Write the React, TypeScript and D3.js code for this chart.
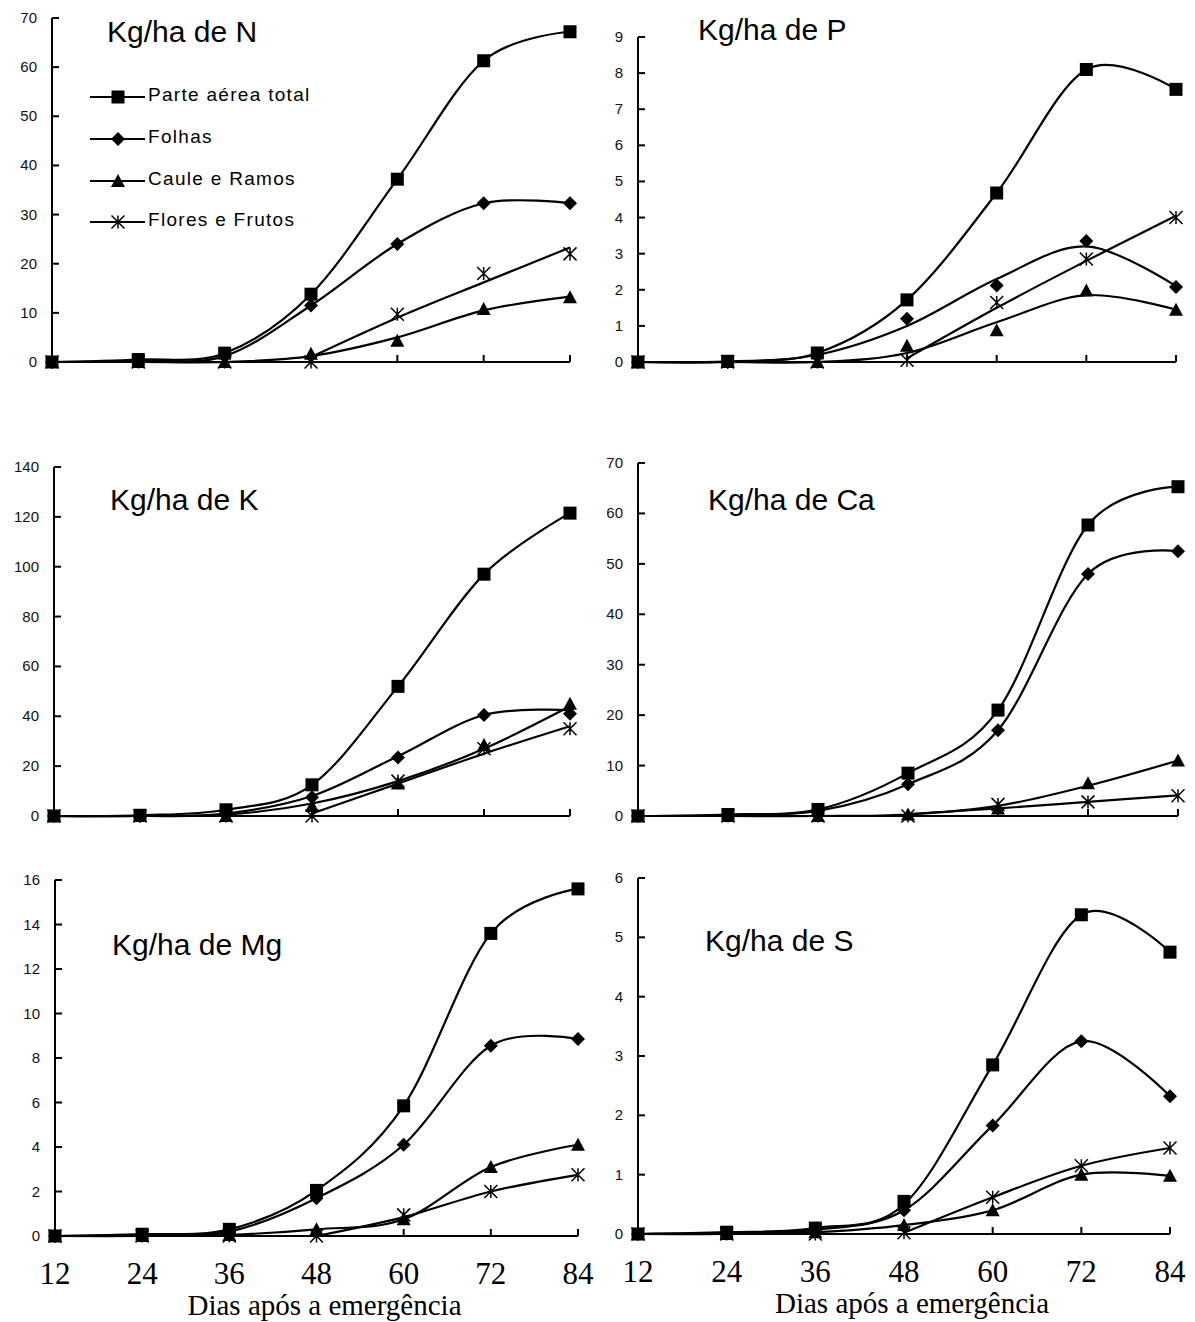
import React, { useEffect, useRef } from "react";
import * as d3 from "d3";

// days after emergence
const days = [12, 24, 36, 48, 60, 72, 84];
const seriesNames = ["Parte aérea total", "Folhas", "Caule e Ramos", "Flores e Frutos"];
const symbols = ["square", "diamond", "triangle", "star"];

// marker values per series: [parte, folhas, caule, flores]
const nPoints = [
  [0, 0.5, 1.8, 13.8, 37.2, 61.3, 67.2],
  [0, 0.3, 1.2, 11.5, 24, 32.3, 32.3],
  [0, 0, 0, 1.7, 4.3, 10.8, 13.2],
  [0, 0, 0, 0, 9.7, 18, 22],
];
const nFit = [
  [0, 0.5, 1.8, 13.8, 37.2, 61.3, 67.2],
  [0, 0.3, 1.2, 11.5, 24, 32.3, 32.3],
  [0, 0, 0, 1.2, 5, 10.5, 13.3],
  [null, null, null, 1.0, 9.0, 16.2, 23.3],
];

const pPoints = [
  [0, 0.02, 0.25, 1.72, 4.68, 8.1, 7.55],
  [0, 0, 0.2, 1.2, 2.12, 3.35, 2.08],
  [0, 0, 0, 0.45, 0.88, 1.98, 1.45],
  [0, 0, 0, 0.05, 1.65, 2.85, 4.0],
];
const pFit = [
  [0, 0.02, 0.25, 1.72, 4.68, 8.1, 7.55],
  [0, 0, 0.2, 1.0, 2.3, 3.2, 2.1],
  [0, 0, 0, 0.25, 1.1, 1.85, 1.45],
  [null, null, null, 0.1, 1.5, 2.8, 4.05],
];

const kPoints = [
  [0, 0.3, 2.5, 12.5, 52, 97, 121.5],
  [0, 0, 1, 7.5, 23.5, 40.5, 41],
  [0, 0, 0, 4, 13, 28.5, 45],
  [0, 0, 0, 0, 14, 27, 35],
];
const kFit = [
  [0, 0.3, 2.5, 12.5, 52, 97, 121.5],
  [0, 0, 1, 8, 24, 40.5, 42.5],
  [0, 0, 0.5, 5, 14, 27, 44],
  [null, null, null, 1, 13, 25, 36],
];

const caPoints = [
  [0, 0.3, 1.3, 8.5, 21, 57.7, 65.3],
  [0, 0.2, 1.0, 6.3, 17, 48, 52.5],
  [0, 0, 0, 0.3, 1.5, 6.5, 11],
  [0, 0, 0, 0, 2.3, 2.8, 4.0],
];
const caFit = [
  [0, 0.3, 1.3, 8.5, 21, 57.7, 65.3],
  [0, 0.2, 1.0, 6.3, 17, 48, 52.5],
  [0, 0, 0, 0.3, 2, 6, 11],
  [null, null, null, 0.4, 1.5, 2.8, 4.1],
];

const mgPoints = [
  [0, 0.08, 0.3, 2.05, 5.85, 13.6, 15.6],
  [0, 0.05, 0.2, 1.7, 4.1, 8.55, 8.85],
  [0, 0, 0.05, 0.3, 0.75, 3.1, 4.1],
  [0, 0, 0, 0, 0.95, 2.0, 2.75],
];
const mgFit = [
  [0, 0.08, 0.3, 2.05, 5.85, 13.6, 15.6],
  [0, 0.05, 0.2, 1.7, 4.1, 8.55, 8.85],
  [0, 0, 0.05, 0.3, 0.75, 3.1, 4.1],
  [null, null, null, 0, 0.85, 2.0, 2.75],
];

const sPoints = [
  [0, 0.03, 0.1, 0.55, 2.85, 5.38, 4.75],
  [0, 0.02, 0.07, 0.4, 1.83, 3.25, 2.32],
  [0, 0, 0.03, 0.15, 0.4, 1.0, 0.98],
  [0, 0, 0, 0.02, 0.62, 1.15, 1.45],
];
const sFit = [
  [0, 0.03, 0.1, 0.5, 2.85, 5.38, 4.75],
  [0, 0.02, 0.07, 0.4, 1.83, 3.25, 2.32],
  [0, 0, 0.03, 0.15, 0.4, 1.0, 0.98],
  [null, null, null, 0.02, 0.62, 1.15, 1.45],
];

const panels = [
  { title: "Kg/ha de N", points: nPoints, fit: nFit, yMax: 70, yStep: 10, x0: 52, x1: 570, yb: 362, yt: 18, tx: 107, ty: 42, legend: true, xLabels: false },
  { title: "Kg/ha de P", points: pPoints, fit: pFit, yMax: 9, yStep: 1, x0: 638, x1: 1176, yb: 362, yt: 37, tx: 698, ty: 40, legend: false, xLabels: false },
  { title: "Kg/ha de K", points: kPoints, fit: kFit, yMax: 140, yStep: 20, x0: 54, x1: 570, yb: 816, yt: 467, tx: 110, ty: 510, legend: false, xLabels: false },
  { title: "Kg/ha de Ca", points: caPoints, fit: caFit, yMax: 70, yStep: 10, x0: 638, x1: 1178, yb: 816, yt: 463, tx: 708, ty: 510, legend: false, xLabels: false },
  { title: "Kg/ha de Mg", points: mgPoints, fit: mgFit, yMax: 16, yStep: 2, x0: 55, x1: 578, yb: 1236, yt: 880, tx: 112, ty: 955, legend: false, xLabels: true },
  { title: "Kg/ha de S", points: sPoints, fit: sFit, yMax: 6, yStep: 1, x0: 638, x1: 1170, yb: 1234, yt: 878, tx: 705, ty: 951, legend: false, xLabels: true },
];

function drawMarker(g: any, kind: string, x: number, y: number) {
  if (kind === "square") {
    g.append("rect").attr("x", x - 6.5).attr("y", y - 6.5).attr("width", 13).attr("height", 13).attr("fill", "#000");
  } else if (kind === "diamond") {
    g.append("path").attr("d", `M${x},${y - 7}L${x + 7},${y}L${x},${y + 7}L${x - 7},${y}Z`).attr("fill", "#000");
  } else if (kind === "triangle") {
    g.append("path").attr("d", `M${x},${y - 7}L${x + 7},${y + 6}L${x - 7},${y + 6}Z`).attr("fill", "#000");
  } else {
    const r = 6.5;
    g.append("path")
      .attr("d", `M${x},${y - r}L${x},${y + r}M${x - r},${y - r}L${x + r},${y + r}M${x + r},${y - r}L${x - r},${y + r}`)
      .attr("stroke", "#000")
      .attr("stroke-width", 1.5)
      .attr("fill", "none");
  }
}

function App() {
  const svgRef = useRef(null);

  useEffect(() => {
    const svg = d3.select(svgRef.current);
    svg.selectAll("*").remove();

    panels.forEach((p) => {
      const g = svg.append("g");
      const x = d3.scaleLinear().domain([12, 84]).range([p.x0, p.x1]);
      const y = d3.scaleLinear().domain([0, p.yMax]).range([p.yb, p.yt]);

      // y axis, ticks pointing inward
      g.append("line").attr("x1", p.x0).attr("x2", p.x0).attr("y1", p.yb).attr("y2", p.yt).attr("stroke", "#000").attr("stroke-width", 2);
      const yTicks = d3.range(0, p.yMax + p.yStep / 2, p.yStep);
      yTicks.forEach((t) => {
        g.append("line").attr("x1", p.x0).attr("x2", p.x0 + 7).attr("y1", y(t)).attr("y2", y(t)).attr("stroke", "#000").attr("stroke-width", 2);
        g.append("text")
          .attr("x", p.x0 - 15)
          .attr("y", y(t) + 5)
          .attr("text-anchor", "end")
          .attr("font-family", "Arial, Liberation Sans, sans-serif")
          .attr("font-size", 15)
          .attr("fill", "#111")
          .text(d3.format("d")(t));
      });

      // x axis, ticks pointing up
      g.append("line").attr("x1", p.x0).attr("x2", p.x1).attr("y1", p.yb).attr("y2", p.yb).attr("stroke", "#000").attr("stroke-width", 2);
      days.forEach((d) => {
        g.append("line").attr("x1", x(d)).attr("x2", x(d)).attr("y1", p.yb).attr("y2", p.yb - 7).attr("stroke", "#000").attr("stroke-width", 2);
        if (p.xLabels) {
          g.append("text")
            .attr("x", x(d))
            .attr("y", p.yb + 48)
            .attr("text-anchor", "middle")
            .attr("font-family", "Times New Roman, Liberation Serif, serif")
            .attr("font-size", 31)
            .text(d);
        }
      });
      if (p.xLabels) {
        g.append("text")
          .attr("x", (p.x0 + p.x1) / 2 + 8)
          .attr("y", p.yb + 79)
          .attr("text-anchor", "middle")
          .attr("font-family", "Times New Roman, Liberation Serif, serif")
          .attr("font-size", 29)
          .text("Dias após a emergência");
      }

      // title
      g.append("text")
        .attr("x", p.tx)
        .attr("y", p.ty)
        .attr("font-family", "Arial, Liberation Sans, sans-serif")
        .attr("font-size", 30)
        .text(p.title);

      // fitted lines
      const line = d3
        .line<any>()
        .defined((d) => d[1] !== null)
        .x((d) => x(d[0]))
        .y((d) => y(d[1]))
        .curve(d3.curveCardinal.tension(0));
      p.fit.forEach((vals) => {
        g.append("path")
          .attr("d", line(days.map((d, i) => [d, vals[i]])))
          .attr("fill", "none")
          .attr("stroke", "#000")
          .attr("stroke-width", 2.2);
      });

      // markers
      p.points.forEach((vals, si) => {
        vals.forEach((v, i) => drawMarker(g, symbols[si], x(days[i]), y(v)));
      });

      // legend
      if (p.legend) {
        const rows = [97, 139, 181, 222];
        seriesNames.forEach((name, i) => {
          g.append("line").attr("x1", 90).attr("x2", 145).attr("y1", rows[i]).attr("y2", rows[i]).attr("stroke", "#000").attr("stroke-width", 2.2);
          drawMarker(g, symbols[i], 118, rows[i]);
          g.append("text")
            .attr("x", 148)
            .attr("y", rows[i] + 4)
            .attr("font-family", "Arial, Liberation Sans, sans-serif")
            .attr("font-size", 19)
            .attr("letter-spacing", 1.3)
            .text(name);
        });
      }
    });
  }, []);

  return (
    <div style={{ position: "absolute", left: 0, top: 0 }}>
      <svg ref={svgRef} width={1195} height={1322} style={{ display: "block", background: "#fff" }}></svg>
    </div>
  );
}

export default App;
